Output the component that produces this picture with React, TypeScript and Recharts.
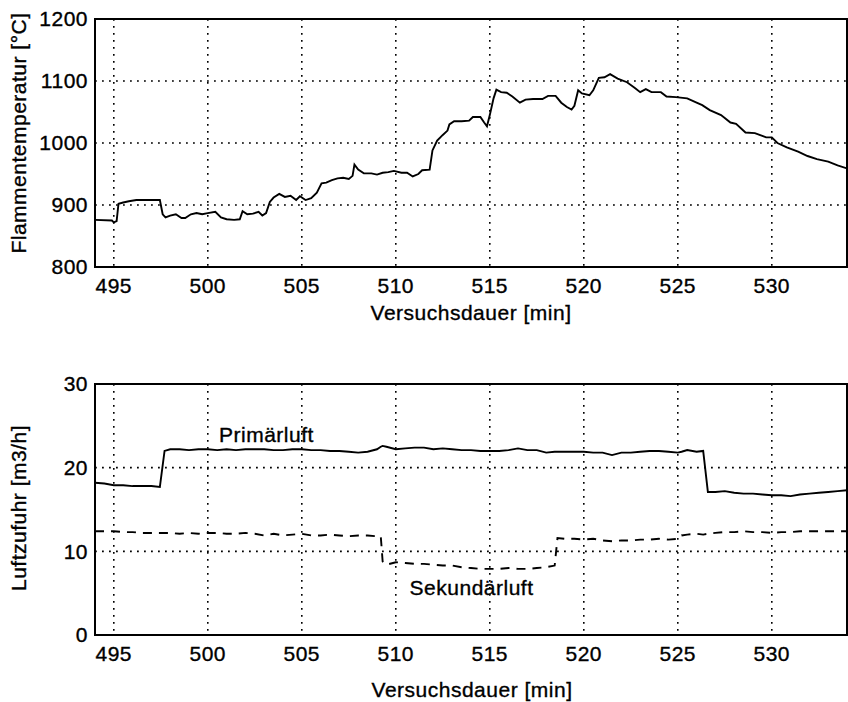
import React from 'react';
import { LineChart, Line, XAxis, YAxis, CartesianGrid, ReferenceArea, ReferenceDot } from 'recharts';

const FONT = '"Liberation Sans", Arial, Helvetica, sans-serif';

const timeTicks = [495, 500, 505, 510, 515, 520, 525, 530];
const tempTicks = [800, 900, 1000, 1100, 1200];
const airTicks = [0, 10, 20, 30];

const xTitle = 'Versuchsdauer [min]';
const tempTitle = 'Flammentemperatur [°C]';
const airTitle = 'Luftzufuhr [m3/h]';
const primaryLabel = 'Primärluft';
const secondaryLabel = 'Sekundärluft';

const flameTime = [
  494.0, 494.9, 495.0, 495.15, 495.25, 495.5, 495.8, 496.2, 497.0, 497.45,
  497.6, 497.75, 498.0, 498.3, 498.6, 498.8, 499.1, 499.4, 499.7, 500.0,
  500.4, 500.7, 501.0, 501.4, 501.7, 501.85, 502.1, 502.4, 502.7, 502.9,
  503.1, 503.3, 503.5, 503.8, 504.1, 504.4, 504.7, 504.9, 505.2, 505.5,
  505.8, 506.05, 506.3, 506.6, 506.9, 507.2, 507.5, 507.7, 507.8, 508.0,
  508.3, 508.7, 509.0, 509.3, 509.6, 509.9, 510.3, 510.6, 510.9, 511.2,
  511.4, 511.8, 511.95, 512.2, 512.5, 512.75, 512.85, 513.1, 513.5, 513.9,
  514.1, 514.5, 514.7, 514.85, 515.0, 515.2, 515.35, 515.6, 515.9, 516.2,
  516.6, 516.9, 517.3, 517.8, 518.1, 518.5, 518.8, 519.1, 519.35, 519.5,
  519.7, 519.9, 520.3, 520.5, 520.8, 521.1, 521.4, 521.8, 522.3, 522.7,
  523.0, 523.3, 523.6, 524.1, 524.4, 524.9, 525.5, 526.0, 526.3, 526.7,
  527.3, 527.8, 528.1, 528.6, 529.1, 529.7, 530.0, 530.3, 530.8, 531.4,
  531.9, 532.4, 533.0, 533.5, 534.0,
];
const flameTemp = [
  876, 875, 872, 874, 902, 904, 906, 908, 908, 908,
  885, 880, 883, 885, 879, 879, 885, 887, 885, 887,
  889, 880, 877, 876, 877, 890, 885, 886, 889, 883,
  887, 905, 912, 918, 913, 915, 908, 914, 908, 911,
  920, 935, 936, 940, 943, 944, 942, 947, 965, 957,
  951, 951, 949, 952, 953, 955, 952, 952, 946, 950,
  956, 957, 988, 1004, 1013, 1020, 1030, 1035, 1035, 1036,
  1042, 1042, 1033, 1027, 1045, 1072, 1086, 1082, 1081, 1075,
  1065, 1070, 1071, 1071, 1076, 1076, 1065, 1058, 1054, 1060,
  1085, 1080, 1077, 1085, 1105, 1106, 1111, 1104, 1098, 1089,
  1082, 1087, 1082, 1082, 1075, 1074, 1072, 1065, 1061, 1053,
  1045, 1033, 1031, 1017, 1016, 1009, 1009, 1000, 993, 986,
  979, 974, 970, 964, 959,
];

const airTime = [
  494.0, 494.5, 495.0, 495.5, 496.0, 496.5, 497.0, 497.45, 497.7, 498.0,
  498.5, 499.0, 499.5, 500.0, 500.5, 501.0, 501.5, 502.0, 502.5, 503.0,
  503.5, 504.0, 504.5, 505.0, 505.5, 506.0, 506.5, 507.0, 507.5, 508.0,
  508.5, 509.0, 509.2, 509.3, 509.5, 510.0, 510.5, 511.0, 511.5, 512.0,
  512.5, 513.0, 513.5, 514.0, 514.5, 515.0, 515.5, 516.0, 516.5, 517.0,
  517.5, 518.0, 518.45, 518.6, 519.0, 519.5, 520.0, 520.5, 521.0, 521.5,
  522.0, 522.5, 523.0, 523.5, 524.0, 524.5, 525.0, 525.2, 525.5, 526.0,
  526.35, 526.6, 527.0, 527.5, 528.0, 528.5, 529.0, 529.5, 530.0, 530.5,
  531.0, 531.5, 532.0, 532.5, 533.0, 533.5, 534.0,
];
const primaryAir = [
  18.2, 18.1, 17.9, 17.9, 17.8, 17.8, 17.8, 17.7, 22.0, 22.2,
  22.2, 22.1, 22.2, 22.2, 22.1, 22.2, 22.1, 22.2, 22.2, 22.2,
  22.1, 22.1, 22.2, 22.2, 22.1, 22.1, 22.0, 22.0, 21.9, 21.8,
  21.9, 22.2, 22.5, 22.6, 22.5, 22.2, 22.3, 22.4, 22.4, 22.2,
  22.3, 22.2, 22.1, 22.1, 22.0, 22.0, 22.0, 22.1, 22.3, 22.1,
  22.1, 21.8, 21.9, 21.9, 21.9, 21.9, 21.9, 21.8, 21.8, 21.5,
  21.8, 21.8, 21.9, 22.0, 22.0, 21.9, 21.8, 21.9, 22.1, 21.9,
  22.0, 17.1, 17.1, 17.2, 17.0, 16.9, 16.9, 16.8, 16.7, 16.7,
  16.6, 16.8, 16.9, 17.0, 17.1, 17.2, 17.3,
];
const secondaryAir = [
  12.4, 12.4, 12.4, 12.3, 12.3, 12.2, 12.2, 12.2, 12.2, 12.2,
  12.1, 12.2, 12.1, 12.2, 12.2, 12.1, 12.1, 12.2, 12.1, 11.9,
  12.1, 11.9, 12.0, 12.1, 11.9, 11.9, 12.0, 11.9, 11.8, 11.9,
  11.9, 11.8, 11.8, 8.8, 8.4, 8.7, 8.6, 8.5, 8.5, 8.4,
  8.3, 8.3, 8.1, 8.0, 7.9, 7.9, 7.9, 8.0, 7.9, 7.9,
  8.0, 8.1, 8.3, 11.6, 11.5, 11.5, 11.4, 11.5, 11.3, 11.2,
  11.3, 11.3, 11.4, 11.4, 11.5, 11.4, 11.5, 11.9, 12.0, 12.1,
  12.0, 12.1, 12.2, 12.3, 12.3, 12.4, 12.3, 12.3, 12.2, 12.3,
  12.3, 12.4, 12.4, 12.4, 12.4, 12.4, 12.4,
];

const flameData = flameTime.map((t, i) => ({ t, temp: flameTemp[i] }));
const airData = airTime.map((t, i) => ({ t, primary: primaryAir[i], secondary: secondaryAir[i] }));

const tickStyle = { fontSize: 21, fill: '#000', fontFamily: FONT, stroke: '#000', strokeWidth: 0.35 };
const gridDash = '1.8 5.2';

const xLabel = (y: number, cx: number) => () => (
  <text x={cx} y={y} textAnchor="middle" fontSize={21} fill="#000" stroke="#000" strokeWidth={0.35} fontFamily={FONT}>
    {xTitle}
  </text>
);

const yLabel = (text: string, cx: number, cy: number) => () => (
  <text
    x={cx}
    y={cy}
    transform={`rotate(-90 ${cx} ${cy})`}
    textAnchor="middle"
    fontSize={21}
    fill="#000"
    stroke="#000"
    strokeWidth={0.35}
    fontFamily={FONT}
  >
    {text}
  </text>
);

export default function App() {
  return (
    <div
      style={{
        position: 'absolute',
        left: 0,
        top: 0,
        width: 848,
        height: 702,
        background: '#fff',
        fontFamily: FONT,
        letterSpacing: '0.5px',
        overflow: 'hidden',
      }}
    >
      <div style={{ position: 'absolute', left: 0, top: 0 }}>
        <LineChart width={848} height={340} data={flameData} margin={{ top: 19, right: 1, bottom: 0, left: 0 }}>
          <CartesianGrid stroke="#000" strokeWidth={1.6} strokeDasharray={gridDash} fill="none" />
          <XAxis
            dataKey="t"
            type="number"
            domain={[494, 534]}
            ticks={timeTicks}
            interval={0}
            allowDataOverflow
            height={73}
            axisLine={false}
            tickLine={false}
            tickSize={0}
            tickMargin={11}
            tick={tickStyle}
            label={xLabel(320, 471)}
          />
          <YAxis
            type="number"
            domain={[800, 1200]}
            ticks={tempTicks}
            interval={0}
            allowDataOverflow
            width={95}
            axisLine={false}
            tickLine={false}
            tickSize={0}
            tickMargin={7}
            tick={tickStyle}
            label={yLabel(tempTitle, 25.5, 133)}
          />
          <ReferenceArea
            x1={494}
            x2={534}
            y1={800}
            y2={1200}
            fill="none"
            fillOpacity={0}
            stroke="#000"
            strokeWidth={2}
            ifOverflow="visible"
          />
          <Line
            dataKey="temp"
            type="linear"
            stroke="#000"
            strokeWidth={1.9}
            dot={false}
            activeDot={false}
            isAnimationActive={false}
          />
        </LineChart>
      </div>
      <div style={{ position: 'absolute', left: 0, top: 340 }}>
        <LineChart width={848} height={362} data={airData} margin={{ top: 44, right: 1, bottom: 0, left: 0 }}>
          <CartesianGrid stroke="#000" strokeWidth={1.6} strokeDasharray={gridDash} fill="none" />
          <XAxis
            dataKey="t"
            type="number"
            domain={[494, 534]}
            ticks={timeTicks}
            interval={0}
            allowDataOverflow
            height={67}
            axisLine={false}
            tickLine={false}
            tickSize={0}
            tickMargin={11}
            tick={tickStyle}
            label={xLabel(357, 472)}
          />
          <YAxis
            type="number"
            domain={[0, 30]}
            ticks={airTicks}
            interval={0}
            allowDataOverflow
            width={95}
            axisLine={false}
            tickLine={false}
            tickSize={0}
            tickMargin={7}
            tick={tickStyle}
            label={yLabel(airTitle, 25.5, 168)}
          />
          <ReferenceArea
            x1={494}
            x2={534}
            y1={0}
            y2={30}
            fill="none"
            fillOpacity={0}
            stroke="#000"
            strokeWidth={2}
            ifOverflow="visible"
          />
          <Line
            dataKey="primary"
            type="linear"
            stroke="#000"
            strokeWidth={1.9}
            dot={false}
            activeDot={false}
            isAnimationActive={false}
          />
          <Line
            dataKey="secondary"
            type="linear"
            stroke="#000"
            strokeWidth={1.9}
            strokeDasharray="9 7"
            dot={false}
            activeDot={false}
            isAnimationActive={false}
          />
          <ReferenceDot
            x={503.12}
            y={23.1}
            r={0}
            fill="none"
            stroke="none"
            ifOverflow="visible"
            label={{ value: primaryLabel, position: 'top', offset: 0, fontSize: 21, fill: '#000', stroke: '#000', strokeWidth: 0.35, fontFamily: FONT }}
          />
          <ReferenceDot
            x={514.03}
            y={4.84}
            r={0}
            fill="none"
            stroke="none"
            ifOverflow="visible"
            label={{ value: secondaryLabel, position: 'top', offset: 0, fontSize: 21, fill: '#000', stroke: '#000', strokeWidth: 0.35, fontFamily: FONT }}
          />
        </LineChart>
      </div>
    </div>
  );
}
